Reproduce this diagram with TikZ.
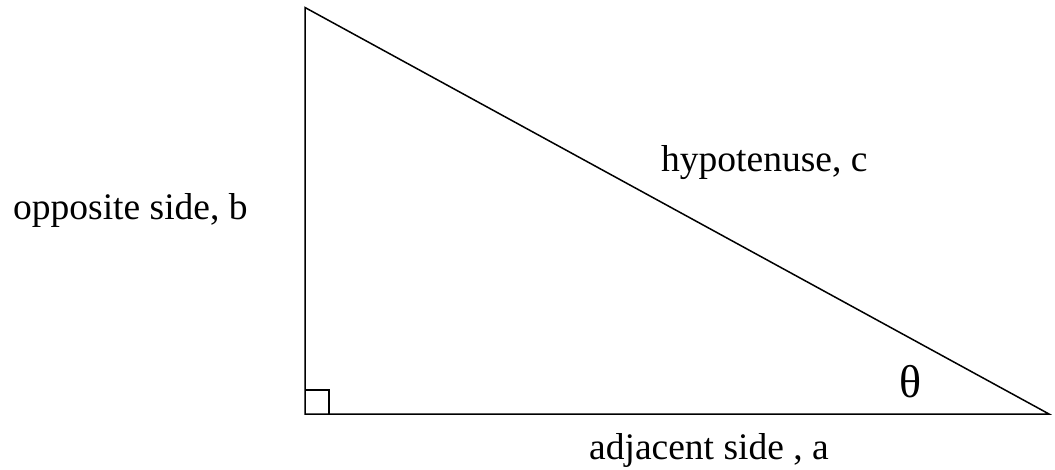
\documentclass[tikz,border=0pt]{standalone}
\usepackage{fontspec}
\setmainfont{Liberation Serif}
\usetikzlibrary{positioning}

\begin{document}
\begin{tikzpicture}[x=1pt, y=-1pt,
  side/.style={line width=1.5pt, line join=miter},
  lbl/.style={font=\fontsize{37.5}{42}\selectfont, inner sep=0pt, anchor=base west},
  angle/.style={font=\fontsize{46}{50}\selectfont, inner sep=0pt}
]
  \useasboundingbox (0,0) rectangle (1055,470);
  % corners of the triangle
  \coordinate (top) at (305, 7.5);
  \coordinate (rt) at (305, 414);
  \coordinate (tip) at (1049, 414);
  \draw[side] (top) -- (rt) -- (tip) -- cycle;
  % right angle mark
  \draw[side] (305, 390) -- (329, 390) -- (329, 414);
  % labels
  \node[lbl] (opp) at (13, 220) {opposite side, b};
  \node[lbl] (hyp) at (661, 172) {hypotenuse, c};
  \node[lbl] (adj) at (589, 459) {adjacent side , a};
  \node[angle] (theta) at (911, 382) {θ};
\end{tikzpicture}
\end{document}
